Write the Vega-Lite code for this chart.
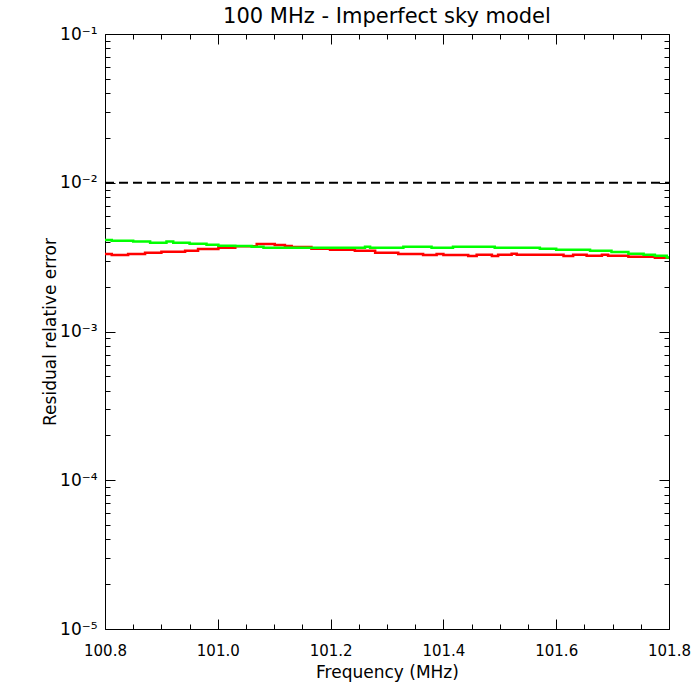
{
  "$schema": "https://vega.github.io/schema/vega-lite/v6.json",
  "width": 564,
  "height": 595,
  "autosize": {"type": "none"},
  "padding": {"left": 105, "top": 34, "right": 31, "bottom": 71},
  "background": "white",
  "title": {
    "text": "100 MHz - Imperfect sky model",
    "font": "DejaVu Sans",
    "fontSize": 21,
    "fontWeight": "normal",
    "color": "black",
    "anchor": "middle",
    "offset": -2
  },
  "datasets": {
    "residuals": [
      {"freq": 100.800, "err": 0.00332, "series": "red"},
      {"freq": 100.812, "err": 0.00327, "series": "red"},
      {"freq": 100.841, "err": 0.00332, "series": "red"},
      {"freq": 100.871, "err": 0.00339, "series": "red"},
      {"freq": 100.900, "err": 0.00344, "series": "red"},
      {"freq": 100.942, "err": 0.00349, "series": "red"},
      {"freq": 100.965, "err": 0.00359, "series": "red"},
      {"freq": 101.001, "err": 0.00366, "series": "red"},
      {"freq": 101.031, "err": 0.00374, "series": "red"},
      {"freq": 101.069, "err": 0.00387, "series": "red"},
      {"freq": 101.101, "err": 0.00382, "series": "red"},
      {"freq": 101.119, "err": 0.00376, "series": "red"},
      {"freq": 101.131, "err": 0.00370, "series": "red"},
      {"freq": 101.166, "err": 0.00360, "series": "red"},
      {"freq": 101.199, "err": 0.00355, "series": "red"},
      {"freq": 101.243, "err": 0.00349, "series": "red"},
      {"freq": 101.279, "err": 0.00339, "series": "red"},
      {"freq": 101.320, "err": 0.00332, "series": "red"},
      {"freq": 101.364, "err": 0.00327, "series": "red"},
      {"freq": 101.388, "err": 0.00332, "series": "red"},
      {"freq": 101.400, "err": 0.00327, "series": "red"},
      {"freq": 101.444, "err": 0.00322, "series": "red"},
      {"freq": 101.459, "err": 0.00328, "series": "red"},
      {"freq": 101.486, "err": 0.00322, "series": "red"},
      {"freq": 101.497, "err": 0.00328, "series": "red"},
      {"freq": 101.521, "err": 0.00333, "series": "red"},
      {"freq": 101.530, "err": 0.00328, "series": "red"},
      {"freq": 101.613, "err": 0.00322, "series": "red"},
      {"freq": 101.630, "err": 0.00328, "series": "red"},
      {"freq": 101.654, "err": 0.00323, "series": "red"},
      {"freq": 101.681, "err": 0.00328, "series": "red"},
      {"freq": 101.692, "err": 0.00323, "series": "red"},
      {"freq": 101.728, "err": 0.00318, "series": "red"},
      {"freq": 101.775, "err": 0.00313, "series": "red"},
      {"freq": 101.800, "err": 0.00313, "series": "red"},
      {"freq": 100.800, "err": 0.00412, "series": "green"},
      {"freq": 100.812, "err": 0.00408, "series": "green"},
      {"freq": 100.850, "err": 0.00402, "series": "green"},
      {"freq": 100.880, "err": 0.00395, "series": "green"},
      {"freq": 100.909, "err": 0.00402, "series": "green"},
      {"freq": 100.921, "err": 0.00395, "series": "green"},
      {"freq": 100.950, "err": 0.00389, "series": "green"},
      {"freq": 100.980, "err": 0.00383, "series": "green"},
      {"freq": 101.001, "err": 0.00377, "series": "green"},
      {"freq": 101.031, "err": 0.00376, "series": "green"},
      {"freq": 101.060, "err": 0.00372, "series": "green"},
      {"freq": 101.081, "err": 0.00366, "series": "green"},
      {"freq": 101.261, "err": 0.00372, "series": "green"},
      {"freq": 101.270, "err": 0.00366, "series": "green"},
      {"freq": 101.329, "err": 0.00372, "series": "green"},
      {"freq": 101.379, "err": 0.00366, "series": "green"},
      {"freq": 101.417, "err": 0.00372, "series": "green"},
      {"freq": 101.491, "err": 0.00366, "series": "green"},
      {"freq": 101.571, "err": 0.00360, "series": "green"},
      {"freq": 101.600, "err": 0.00355, "series": "green"},
      {"freq": 101.660, "err": 0.00349, "series": "green"},
      {"freq": 101.698, "err": 0.00342, "series": "green"},
      {"freq": 101.728, "err": 0.00333, "series": "green"},
      {"freq": 101.755, "err": 0.00328, "series": "green"},
      {"freq": 101.775, "err": 0.00323, "series": "green"},
      {"freq": 101.796, "err": 0.00315, "series": "green"},
      {"freq": 101.800, "err": 0.00315, "series": "green"}
    ],
    "threshold": [
      {"freq": 100.8, "err": 0.01},
      {"freq": 101.8, "err": 0.01}
    ]
  },
  "layer": [
    {
      "data": {"name": "residuals"},
      "mark": {"type": "line", "interpolate": "step-after", "strokeWidth": 2.5},
      "encoding": {
        "x": {
          "field": "freq",
          "type": "quantitative",
          "scale": {"domain": [100.8, 101.8], "nice": false, "zero": false},
          "axis": {
            "orient": "bottom",
            "values": [100.8, 100.85, 100.9, 100.95, 101.0, 101.05, 101.1, 101.15, 101.2, 101.25, 101.3, 101.35, 101.4, 101.45, 101.5, 101.55, 101.6, 101.65, 101.7, 101.75, 101.8],
            "labelExpr": "round(datum.value*20)%4==0 ? format(datum.value, '.1f') : ''",
            "tickSize": {"condition": {"test": "round(datum.value*20)%4==0", "value": -10}, "value": -5},
            "tickColor": "black",
            "grid": false,
            "domain": false,
            "labelFont": "DejaVu Sans",
            "labelFontSize": 15,
            "labelColor": "black",
            "labelPadding": 24,
            "labelOverlap": false,
            "labelFlush": false,
            "title": "Frequency (MHz)",
            "titleFont": "DejaVu Sans",
            "titleFontSize": 17,
            "titleFontWeight": "normal",
            "titleColor": "black",
            "titlePadding": 1
          }
        },
        "y": {
          "field": "err",
          "type": "quantitative",
          "scale": {"type": "log", "domain": [0.00001, 0.1], "nice": false},
          "axis": {
            "orient": "left",
            "values": [0.00001, 0.00002, 0.00003, 0.00004, 0.00005, 0.00006, 0.00007, 0.00008, 0.00009, 0.0001, 0.0002, 0.0003, 0.0004, 0.0005, 0.0006, 0.0007, 0.0008, 0.0009, 0.001, 0.002, 0.003, 0.004, 0.005, 0.006, 0.007, 0.008, 0.009, 0.01, 0.02, 0.03, 0.04, 0.05, 0.06, 0.07, 0.08, 0.09, 0.1],
            "labelExpr": "datum.value == 0.1 ? '10⁻¹' : datum.value == 0.01 ? '10⁻²' : datum.value == 0.001 ? '10⁻³' : datum.value == 0.0001 ? '10⁻⁴' : datum.value == 0.00001 ? '10⁻⁵' : ''",
            "tickSize": {"condition": {"test": "datum.value == 0.1 || datum.value == 0.01 || datum.value == 0.001 || datum.value == 0.0001 || datum.value == 0.00001", "value": -10}, "value": -5},
            "tickColor": "black",
            "grid": false,
            "domain": false,
            "labelFont": "DejaVu Sans",
            "labelFontSize": 17,
            "labelColor": "black",
            "labelPadding": 18,
            "labelOverlap": false,
            "labelFlush": false,
            "title": "Residual relative error",
            "titleFont": "DejaVu Sans",
            "titleFontSize": 17,
            "titleFontWeight": "normal",
            "titleColor": "black",
            "titlePadding": 0
          }
        },
        "color": {
          "field": "series",
          "type": "nominal",
          "scale": {"domain": ["red", "green"], "range": ["#ff0000", "#00ff00"]},
          "legend": null
        },
        "order": {"field": "series", "sort": "descending"}
      }
    },
    {
      "data": {"name": "threshold"},
      "mark": {"type": "line", "color": "black", "strokeWidth": 2, "strokeDash": [9, 5]},
      "encoding": {
        "x": {
          "field": "freq",
          "type": "quantitative",
          "axis": {
            "orient": "top",
            "values": [100.8, 100.85, 100.9, 100.95, 101.0, 101.05, 101.1, 101.15, 101.2, 101.25, 101.3, 101.35, 101.4, 101.45, 101.5, 101.55, 101.6, 101.65, 101.7, 101.75, 101.8],
            "labels": false,
            "tickSize": {"condition": {"test": "round(datum.value*20)%4==0", "value": -10}, "value": -5},
            "tickColor": "black",
            "grid": false,
            "domain": false,
            "title": null
          }
        },
        "y": {
          "field": "err",
          "type": "quantitative",
          "axis": {
            "orient": "right",
            "values": [0.00001, 0.00002, 0.00003, 0.00004, 0.00005, 0.00006, 0.00007, 0.00008, 0.00009, 0.0001, 0.0002, 0.0003, 0.0004, 0.0005, 0.0006, 0.0007, 0.0008, 0.0009, 0.001, 0.002, 0.003, 0.004, 0.005, 0.006, 0.007, 0.008, 0.009, 0.01, 0.02, 0.03, 0.04, 0.05, 0.06, 0.07, 0.08, 0.09, 0.1],
            "labels": false,
            "tickSize": {"condition": {"test": "datum.value == 0.1 || datum.value == 0.01 || datum.value == 0.001 || datum.value == 0.0001 || datum.value == 0.00001", "value": -10}, "value": -5},
            "tickColor": "black",
            "grid": false,
            "domain": false,
            "title": null
          }
        }
      }
    }
  ],
  "resolve": {"axis": {"x": "independent", "y": "independent"}},
  "config": {
    "view": {"stroke": "black", "strokeWidth": 1},
    "font": "DejaVu Sans"
  }
}
